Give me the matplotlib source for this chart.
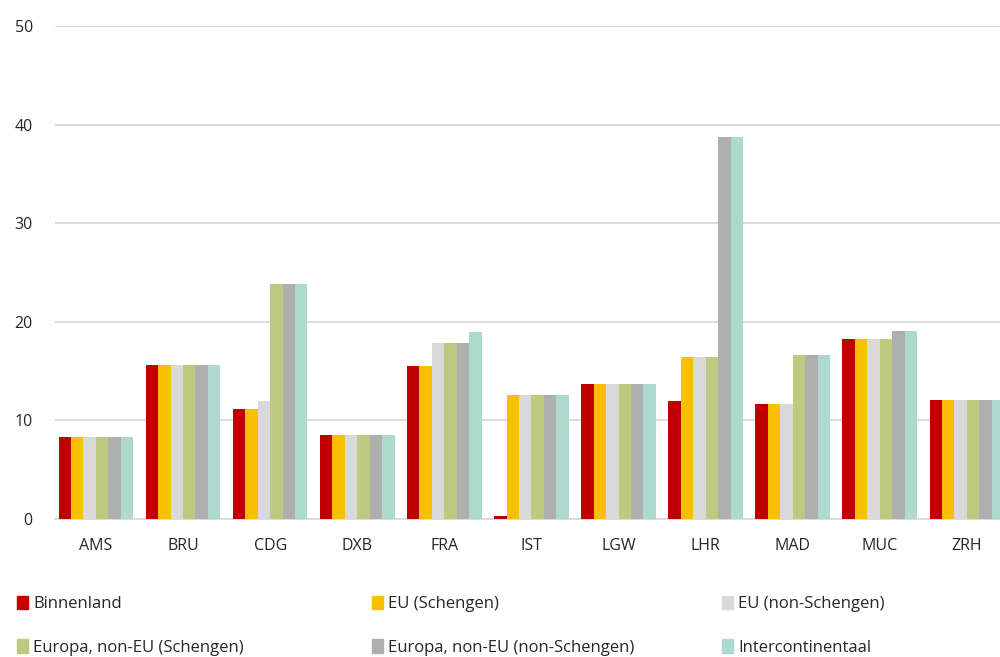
import numpy as np
import matplotlib.pyplot as plt
from matplotlib.patches import Patch

plt.rcParams['font.family'] = ['Open Sans', 'DejaVu Sans']

# data
airports = ['AMS', 'BRU', 'CDG', 'DXB', 'FRA', 'IST', 'LGW', 'LHR', 'MAD', 'MUC', 'ZRH']
series_names = ['Binnenland', 'EU (Schengen)', 'EU (non-Schengen)',
                'Europa, non-EU (Schengen)', 'Europa, non-EU (non-Schengen)', 'Intercontinentaal']
binnenland   = [8.3, 15.6, 11.2, 8.5, 15.5, 0.35, 13.7, 12.0, 11.7, 18.3, 12.1]
eu_schengen  = [8.3, 15.6, 11.2, 8.5, 15.5, 12.6, 13.7, 16.4, 11.7, 18.3, 12.1]
eu_non       = [8.3, 15.6, 12.0, 8.5, 17.9, 12.6, 13.7, 16.4, 11.7, 18.3, 12.1]
eur_schengen = [8.3, 15.6, 23.8, 8.5, 17.9, 12.6, 13.7, 16.4, 16.6, 18.3, 12.1]
eur_non      = [8.3, 15.6, 23.8, 8.5, 17.9, 12.6, 13.7, 38.8, 16.6, 19.1, 12.1]
intercont    = [8.3, 15.6, 23.8, 8.5, 19.0, 12.6, 13.7, 38.8, 16.6, 19.1, 12.1]
colors = ['#C00000', '#F8C000', '#D9D9D9', '#BFCA80', '#AFAFAF', '#ADD9CF']

series = [binnenland, eu_schengen, eu_non, eur_schengen, eur_non, intercont]

fig = plt.figure(figsize=(10, 6.57), dpi=100)
ax = fig.add_axes([0.055, 0.21, 0.945, 0.75])

x = np.arange(len(airports))
w = 0.143
for i, (vals, c) in enumerate(zip(series, colors)):
    ax.bar(x + (i - 2.5) * w, vals, width=w, color=c, zorder=3)

ax.set_ylim(0, 50)
ax.set_xlim(-0.47, 10.38)
ax.set_yticks([0, 10, 20, 30, 40, 50])
ax.yaxis.grid(True, color='#D9D9D9', linewidth=1.3, zorder=0)
ax.set_xticks(x)
ax.set_xticklabels(airports)
for s in ['top', 'right', 'left']:
    ax.spines[s].set_visible(False)
ax.spines['bottom'].set_color('#D9D9D9')
ax.spines['bottom'].set_linewidth(1.3)
ax.tick_params(axis='both', length=0, labelsize=11.5, colors='#262626')
ax.tick_params(axis='x', pad=14)
ax.tick_params(axis='y', pad=16)

# legend: three columns, two rows (Excel style ordering)
handles = [Patch(color=c, label=n) for c, n in zip(colors, series_names)]
col_x = [0.010, 0.365, 0.715]
for k, x0 in enumerate(col_x):
    idx = [k, k + 3]
    leg = fig.legend([handles[i] for i in idx], [series_names[i] for i in idx],
                     loc='lower left', bbox_to_anchor=(x0, -0.008),
                     frameon=False, fontsize=12, handlelength=0.7,
                     handleheight=0.9, handletextpad=0.3, labelspacing=1.6,
                     labelcolor='#262626', borderaxespad=0)

fig.savefig('out.png', dpi=100)
